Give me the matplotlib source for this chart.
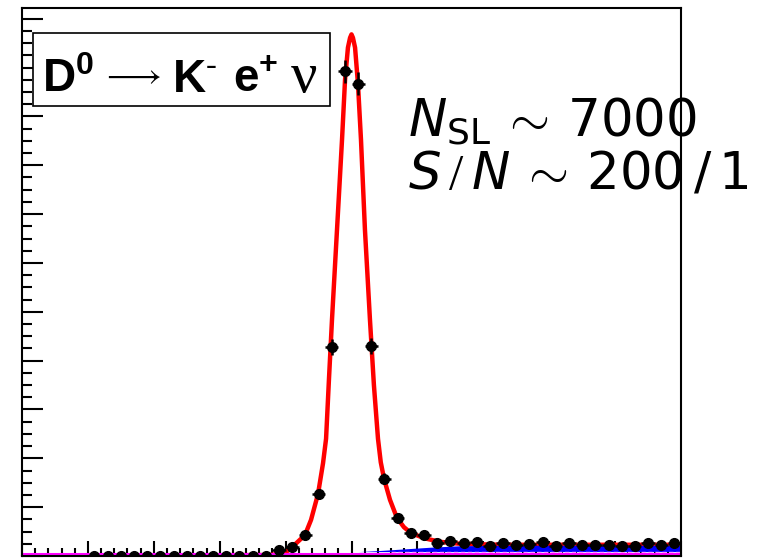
import matplotlib.pyplot as plt
from matplotlib.patches import Rectangle
from matplotlib.ticker import MultipleLocator

# bin centres (bin width 0.01), counts and errors
bin_x = [-0.195, -0.185, -0.175, -0.165, -0.155, -0.145, -0.135, -0.125, -0.115,
         -0.105, -0.095, -0.085, -0.075, -0.065, -0.055, -0.045, -0.035, -0.025,
         -0.015, -0.005, 0.005, 0.015, 0.025, 0.035, 0.045, 0.055, 0.065, 0.075,
         0.085, 0.095, 0.105, 0.115, 0.125, 0.135, 0.145, 0.155, 0.165, 0.175,
         0.185, 0.195, 0.205, 0.215, 0.225, 0.235, 0.245]
counts = [0, 0, 0, 0, 0, 0, 0, 0, 0, 0, 0, 0, 0, 0, 12, 18, 43, 127, 428, 992,
          967, 430, 158, 78, 47, 43, 27, 31, 27, 29, 20, 27, 23, 25, 29, 20, 27,
          23, 23, 23, 20, 20, 27, 23, 27]
count_err = [2, 2, 2, 2, 2, 2, 2, 2, 2, 2, 2, 2, 2, 2, 4, 5, 7, 11, 17, 23,
             23, 17, 11, 8, 6, 6, 5, 5, 5, 5, 4, 5, 5, 5, 5, 4, 5, 5, 5, 5, 4, 4,
             5, 5, 5]

# fit curve
fit_x = [-0.25, -0.0618, -0.0505, -0.0451, -0.0353, -0.0307, -0.0254, -0.0216,
         -0.0193, -0.0171, -0.0148, -0.011, -0.0072, -0.0049, -0.0027, -0.0011,
         0.0, 0.0011, 0.0027, 0.0049, 0.0072, 0.0102, 0.014, 0.017, 0.0201,
         0.0222, 0.0247, 0.0292, 0.0345, 0.0398, 0.0451, 0.0558, 0.0672, 0.0823,
         0.113, 0.25]
fit_y = [0, 2, 6, 18, 43, 74, 127, 190, 240, 362, 484, 668, 852, 975, 1041,
         1061, 1068, 1061, 1041, 967, 852, 668, 484, 350, 240, 192, 158, 115,
         78, 59, 47, 36, 29, 25, 23, 23]

# background components
bkg_x = [-0.25, 0.005, 0.02, 0.037, 0.06, 0.082, 0.12, 0.25]
bkg_top = [9, 9, 11, 14, 18, 21, 22, 22]
bkg_low = 9
magenta_y = 5

fig = plt.figure(figsize=(7.66, 5.58), dpi=100)
ax = fig.add_axes([22 / 766, 2 / 558, 659 / 766, 548 / 558])

ax.plot(fit_x, fit_y, color='#ff0000', lw=3.2, zorder=2)
ax.fill_between(bkg_x, bkg_low, bkg_top, color='#0000ff', lw=0, zorder=3)
ax.plot([0.03, 0.25], [bkg_low - 1, bkg_low - 1], color='#ff99ff', lw=1,
        ls=(0, (3, 2)), zorder=3)
ax.axhline(magenta_y, color='#ff00ff', lw=2.2, zorder=3)
ax.errorbar(bin_x, counts, xerr=0.005, yerr=count_err, fmt='o', color='black',
            ms=7, elinewidth=1.8, capsize=0, zorder=5)

ax.set_xlim(-0.25, 0.25)
ax.set_ylim(0, 1122)
ax.xaxis.set_major_locator(MultipleLocator(0.05))
ax.xaxis.set_minor_locator(MultipleLocator(0.01))
ax.yaxis.set_major_locator(MultipleLocator(100))
ax.yaxis.set_minor_locator(MultipleLocator(25))
ax.tick_params(which='both', direction='in', labelbottom=False, labelleft=False,
               width=1.5, color='black')
ax.tick_params(axis='y', which='major', length=15)
ax.tick_params(axis='y', which='minor', length=7.2)
ax.tick_params(axis='x', which='major', length=10.8)
ax.tick_params(axis='x', which='minor', length=5.8)
for s in ax.spines.values():
    s.set_linewidth(1.5)
    s.set_zorder(6)

# decay label box
fig.patches.append(Rectangle((33 / 766, 1 - 106 / 558), 297 / 766, 73 / 558,
                             transform=fig.transFigure, fill=True, fc='white',
                             ec='black', lw=1.2, zorder=10))
plt.rcParams['mathtext.fontset'] = 'custom'
plt.rcParams['mathtext.rm'] = 'Liberation Serif'
plt.rcParams['mathtext.bf'] = 'Liberation Sans:bold'
plt.rcParams['mathtext.it'] = 'DejaVu Sans:italic'
plt.rcParams['mathtext.sf'] = 'DejaVu Sans'

pieces = [(42, 92, r'$\mathbf{D^0}$', 33),
          (100, 84, r'$\longrightarrow$', 25),
          (172, 92, r'$\mathbf{K^{\text{-}}}$', 33),
          (233, 92, r'$\mathbf{e^{+}}$', 33),
          (290, 92, r'$\mathrm{\nu}$', 42)]
for px, py, txt, size in pieces:
    fig.text(px / 766, 1 - py / 558, txt, fontsize=size, va='baseline',
             ha='left', zorder=11)

fig.text(408 / 766, 1 - 136 / 558, r'$N_{\mathsf{SL}}\,\sim\,\mathsf{7000}$',
         fontsize=37, va='baseline', ha='left', family='DejaVu Sans')
fig.text(408 / 766, 1 - 188 / 558,
         r'$S\,/\,N\,\sim\,\mathsf{200\,/\,1}$',
         fontsize=37, va='baseline', ha='left', family='DejaVu Sans')

fig.savefig('out.png', dpi=100)
